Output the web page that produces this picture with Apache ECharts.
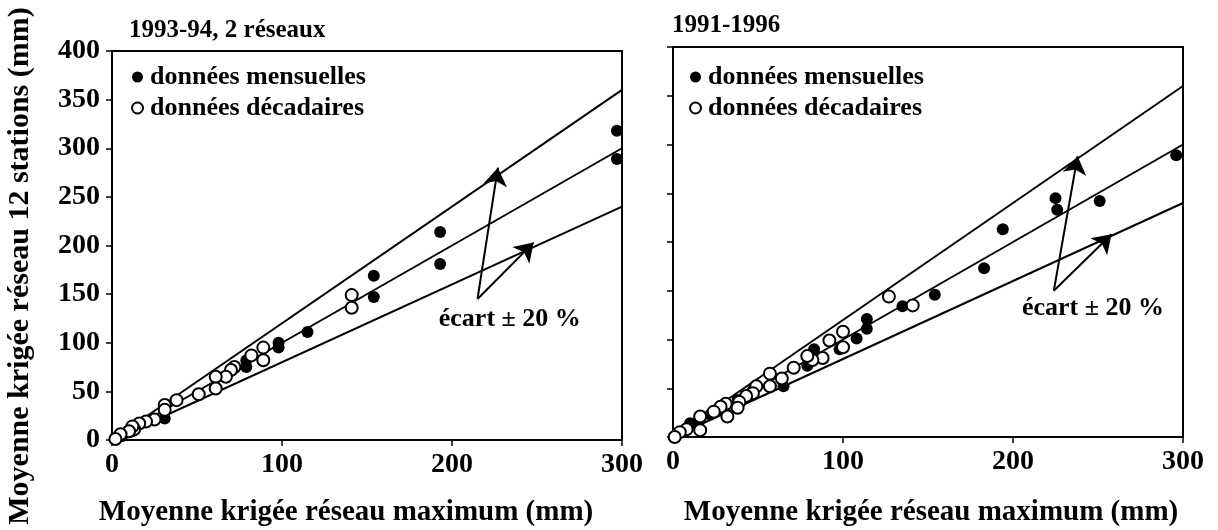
<!DOCTYPE html>
<html>
<head>
<meta charset="utf-8">
<script src="https://cdn.jsdelivr.net/npm/echarts@6/dist/echarts.min.js"></script>
<style>
html,body{margin:0;padding:0;background:#fff;}
#chart{width:1218px;height:530px;}
</style>
</head>
<body>
<div id="chart"></div>
<script>
// ---------- DATA ----------
var panelTitles = ['1993-94, 2 réseaux', '1991-1996'];
var seriesNames = ['données mensuelles', 'données décadaires'];
var xTitle = 'Moyenne krigée réseau maximum (mm)';
var yTitle = 'Moyenne krigée réseau 12 stations (mm)';
var annotationText = 'écart ± 20 %';

// Left panel (1993-94)
var leftMonthly = [[297,318],[297,289],[193,214],[193,181],[154,169],[154,147],[115,111],[98,100],[98,95],[79,82],[79,75],[31,22],[12,9],[6,4],[3,2]];
var leftDecadal = [[141,149],[141,136],[89,95],[89,82],[82,87],[72,75],[70,72],[67,65],[61,65],[61,53],[51,47],[38,41],[31,36],[31,31],[25,21],[20,19],[16,17],[13,11],[12,14],[10,9],[5,6],[2,1]];

// Right panel (1991-1996)
var rightMonthly = [[296,289],[251,242],[225,245],[226,233],[194,213],[183,173],[154,146],[135,134],[114,121],[114,111],[108,101],[98,90],[83,90],[79,73],[65,52],[57,66],[47,48],[38,38],[30,29],[22,23],[15,16],[10,14],[5,5]];
var rightDecadal = [[127,144],[141,135],[100,108],[100,92],[92,99],[88,81],[82,79],[79,83],[71,71],[64,60],[57,65],[57,52],[49,52],[47,45],[43,42],[39,36],[38,30],[32,21],[31,34],[28,31],[24,26],[16,21],[16,7],[8,8],[4,5],[1,0]];

// Reference lines (1:1, +20 %, -20 %) end points
var lineEqual = [[0,0],[300,300]];
var linePlus20 = [[0,0],[300,360]];
var lineMinus20 = [[0,0],[300,240]];

// Arrows: [from, to] in data units
var leftArrows = [[[215,145],[227,280]], [[215,145],[248,203]]];
var rightArrows = [[[224,150],[238,288]], [[224,150],[258,208]]];
var leftAnnotation = [234,124];
var rightAnnotation = [247,132];

var xTicks = {min:0, max:300, interval:100};
var yTicks = {min:0, max:400, interval:50};

// ---------- CHART ----------
var FONT = "'Liberation Serif','Times New Roman',serif";
var chart = echarts.init(document.getElementById('chart'));

var grids = [
  {left:112, top:51, width:510, height:389},
  {left:673, top:47, width:510, height:390}
];

function xAxisFor(i){
  return {
    gridIndex:i, type:'value', min:xTicks.min, max:xTicks.max, interval:xTicks.interval,
    axisLine:{show:true, onZero:false, lineStyle:{color:'#000', width:2}},
    axisTick:{show:true, inside:false, length:6, lineStyle:{color:'#000', width:1.5}},
    axisLabel:{show:true, color:'#000', fontFamily:FONT, fontWeight:'bold', fontSize:28, margin:11},
    splitLine:{show:false}
  };
}
function yAxisFor(i, showLabels){
  return {
    gridIndex:i, type:'value', min:yTicks.min, max:yTicks.max, interval:yTicks.interval,
    axisLine:{show:true, onZero:false, lineStyle:{color:'#000', width:2}},
    axisTick:{show:true, inside:false, length:6, lineStyle:{color:'#000', width:1.5}},
    axisLabel:{show:showLabels, color:'#000', fontFamily:FONT, fontWeight:'bold', fontSize:28, margin:12},
    splitLine:{show:false}
  };
}

function refLine(pts, i){
  return {type:'line', xAxisIndex:i, yAxisIndex:i, data:pts, showSymbol:false, symbol:'none',
    lineStyle:{color:'#000', width:2}, silent:true, z:2};
}
function arrows(arr, i){
  return {type:'lines', coordinateSystem:'cartesian2d', xAxisIndex:i, yAxisIndex:i,
    data:arr.map(function(a){return {coords:a};}),
    symbol:['none','arrow'], symbolSize:[0,18],
    lineStyle:{color:'#000', width:2, opacity:1, curveness:0}, silent:true, z:3};
}
function annotation(pt, i){
  return {type:'scatter', xAxisIndex:i, yAxisIndex:i, data:[pt], symbolSize:0, silent:true,
    itemStyle:{opacity:1},
    label:{show:true, position:'inside', formatter:annotationText, color:'#000', opacity:1,
      fontFamily:FONT, fontWeight:'bold', fontSize:26}};
}
function monthly(data, i){
  return {name:seriesNames[0], type:'scatter', xAxisIndex:i, yAxisIndex:i, data:data, symbol:'circle',
    symbolSize:12, itemStyle:{color:'#000', borderColor:'#000', borderWidth:0, opacity:1}, z:5};
}
function decadal(data, i){
  return {name:seriesNames[1], type:'scatter', xAxisIndex:i, yAxisIndex:i, data:data, symbol:'circle',
    symbolSize:12, itemStyle:{color:'#fff', borderColor:'#000', borderWidth:2, opacity:1}, z:6};
}

function legendFor(left, top){
  return {data:seriesNames, orient:'vertical', left:left, top:top, itemWidth:11, itemHeight:11,
    itemGap:5, icon:'circle', selectedMode:false,
    textStyle:{color:'#000', fontFamily:FONT, fontWeight:'bold', fontSize:26, padding:[0,0,0,2]}};
}

var option = {
  backgroundColor:'#fff',
  animation:false,
  title:[
    {text:panelTitles[0], left:124, top:13, textStyle:{color:'#000', fontFamily:FONT, fontWeight:'bold', fontSize:25}},
    {text:panelTitles[1], left:667, top:8, textStyle:{color:'#000', fontFamily:FONT, fontWeight:'bold', fontSize:25}}
  ],
  legend:[legendFor(126, 59), legendFor(684, 59)],
  grid:grids.map(function(g){return Object.assign({show:true, borderColor:'#000', borderWidth:2, backgroundColor:'transparent'}, g);}),
  xAxis:[xAxisFor(0), xAxisFor(1)],
  yAxis:[yAxisFor(0,true), yAxisFor(1,false)],
  graphic:[
    {type:'text', x:20, y:266, rotation:Math.PI/2, style:{text:yTitle, fill:'#000', font:'bold 30px ' + FONT, textAlign:'center', textVerticalAlign:'middle'}},
    {type:'text', x:346, y:513, style:{text:xTitle, fill:'#000', font:'bold 29px ' + FONT, textAlign:'center', textVerticalAlign:'middle'}},
    {type:'text', x:931, y:513, style:{text:xTitle, fill:'#000', font:'bold 29px ' + FONT, textAlign:'center', textVerticalAlign:'middle'}}
  ],
  series:[
    refLine(lineEqual,0), refLine(linePlus20,0), refLine(lineMinus20,0),
    refLine(lineEqual,1), refLine(linePlus20,1), refLine(lineMinus20,1),
    arrows(leftArrows,0), arrows(rightArrows,1),
    annotation(leftAnnotation,0), annotation(rightAnnotation,1),
    monthly(leftMonthly,0), decadal(leftDecadal,0),
    monthly(rightMonthly,1), decadal(rightDecadal,1)
  ]
};
chart.setOption(option);
</script>
</body>
</html>
